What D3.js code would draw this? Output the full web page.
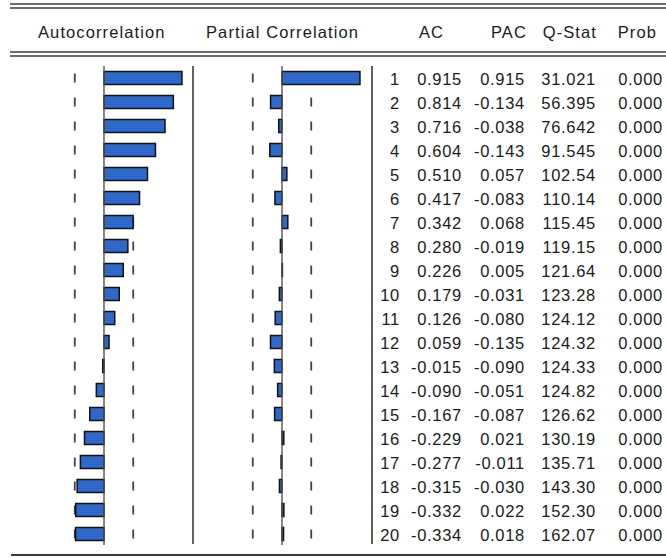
<!DOCTYPE html>
<html>
<head>
<meta charset="utf-8">
<script src="https://cdn.jsdelivr.net/npm/d3@7"></script>
<style>
  html, body { margin: 0; padding: 0; background: #fff; }
  svg { display: block; }
  text { font-family: "Liberation Sans", Arial, sans-serif; fill: #1a1a1a; }
</style>
</head>
<body>
<svg id="chart" width="666" height="558"></svg>
<script>
// ---- data ----
const lags  = [1,2,3,4,5,6,7,8,9,10,11,12,13,14,15,16,17,18,19,20];
const acVals  = [0.915,0.814,0.716,0.604,0.510,0.417,0.342,0.280,0.226,0.179,0.126,0.059,-0.015,-0.090,-0.167,-0.229,-0.277,-0.315,-0.332,-0.334];
const pacVals = [0.915,-0.134,-0.038,-0.143,0.057,-0.083,0.068,-0.019,0.005,-0.031,-0.080,-0.135,-0.090,-0.051,-0.087,0.021,-0.011,-0.030,0.022,0.018];
const qStat   = [31.021,56.395,76.642,91.545,102.54,110.14,115.45,119.15,121.64,123.28,124.12,124.32,124.33,124.82,126.62,130.19,135.71,143.30,152.30,162.07];
const probVals = [0,0,0,0,0,0,0,0,0,0,0,0,0,0,0,0,0,0,0,0];
const headers = ["Autocorrelation","Partial Correlation","AC","PAC","Q-Stat","Prob"];
const bound = 0.343;   // approx. 2/sqrt(T) confidence band

// ---- drawing ----
const svg = d3.select("#chart");
const unit = 85.2;
const xAC  = d3.scaleLinear().domain([-1, 1]).range([104 - unit, 104 + unit]);
const xPAC = d3.scaleLinear().domain([-1, 1]).range([282 - unit, 282 + unit]);
const y = d3.scaleLinear().domain([1, 20]).range([78, 534]);
const barH = 13;
const lineCol = "#3a3a3a";

// horizontal rules
[4, 8, 52, 56].forEach(v => {
  svg.append("line").attr("x1", 10).attr("x2", 666).attr("y1", v).attr("y2", v)
    .attr("stroke", lineCol).attr("stroke-width", 1.6);
});
svg.append("line").attr("x1", 11).attr("x2", 666).attr("y1", 555).attr("y2", 555)
  .attr("stroke", lineCol).attr("stroke-width", 1.8);

// headers
const fontSize = 16.5, ls = 0.7, hls = 1.1;
const hdr = [
  {t: headers[0], x: 38,  a: "start"},
  {t: headers[1], x: 206, a: "start"},
  {t: headers[2], x: 444, a: "end"},
  {t: headers[3], x: 527, a: "end"},
  {t: headers[4], x: 597, a: "end"},
  {t: headers[5], x: 657, a: "end"}
];
svg.selectAll("text.hdr").data(hdr).join("text").attr("class","hdr")
  .attr("x", d => d.x).attr("y", 37.5).attr("text-anchor", d => d.a)
  .style("font-size", fontSize + "px").style("letter-spacing", hls + "px")
  .text(d => d.t);

// panel vertical lines
const yTop = 66, yBot = 545;
[193, 372].forEach(v => {
  svg.append("line").attr("x1", v).attr("x2", v).attr("y1", yTop).attr("y2", yBot - 1)
    .attr("stroke", lineCol).attr("stroke-width", 1.6);
});

function panel(xs, vals) {
  const g = svg.append("g");
  // dashed confidence bounds
  [-bound, bound].forEach(b => {
    g.selectAll(null).data(lags).join("line")
      .attr("x1", xs(b)).attr("x2", xs(b))
      .attr("y1", d => y(d) - 4.5).attr("y2", d => y(d) + 4.5)
      .attr("stroke", "#444").attr("stroke-width", 1.8);
  });
  // bars
  g.selectAll("rect").data(vals).join("rect")
    .attr("x", d => Math.min(xs(0), xs(d)))
    .attr("width", d => Math.abs(xs(d) - xs(0)))
    .attr("y", (d, i) => y(lags[i]) - barH / 2)
    .attr("height", barH)
    .attr("fill", "#3068c8").attr("stroke", "#111").attr("stroke-width", 1.5);
  // zero axis
  g.append("line").attr("x1", xs(0)).attr("x2", xs(0)).attr("y1", yTop).attr("y2", yBot)
    .attr("stroke", "#555").attr("stroke-width", 1.4);
}
panel(xAC, acVals);
panel(xPAC, pacVals);

// table text
const f3 = v => v.toFixed(3);
const fq = v => v >= 100 ? v.toFixed(2) : v.toFixed(3);
const cols = [
  {x: 400, f: i => String(lags[i])},
  {x: 462, f: i => f3(acVals[i])},
  {x: 525, f: i => f3(pacVals[i])},
  {x: 596, f: i => fq(qStat[i])},
  {x: 663, f: i => f3(probVals[i])}
];
cols.forEach(c => {
  svg.selectAll(null).data(lags).join("text")
    .attr("x", c.x).attr("y", d => y(d) + 7).attr("text-anchor", "end")
    .style("font-size", fontSize + "px").style("letter-spacing", ls + "px")
    .text((d, i) => c.f(i));
});
</script>
</body>
</html>
